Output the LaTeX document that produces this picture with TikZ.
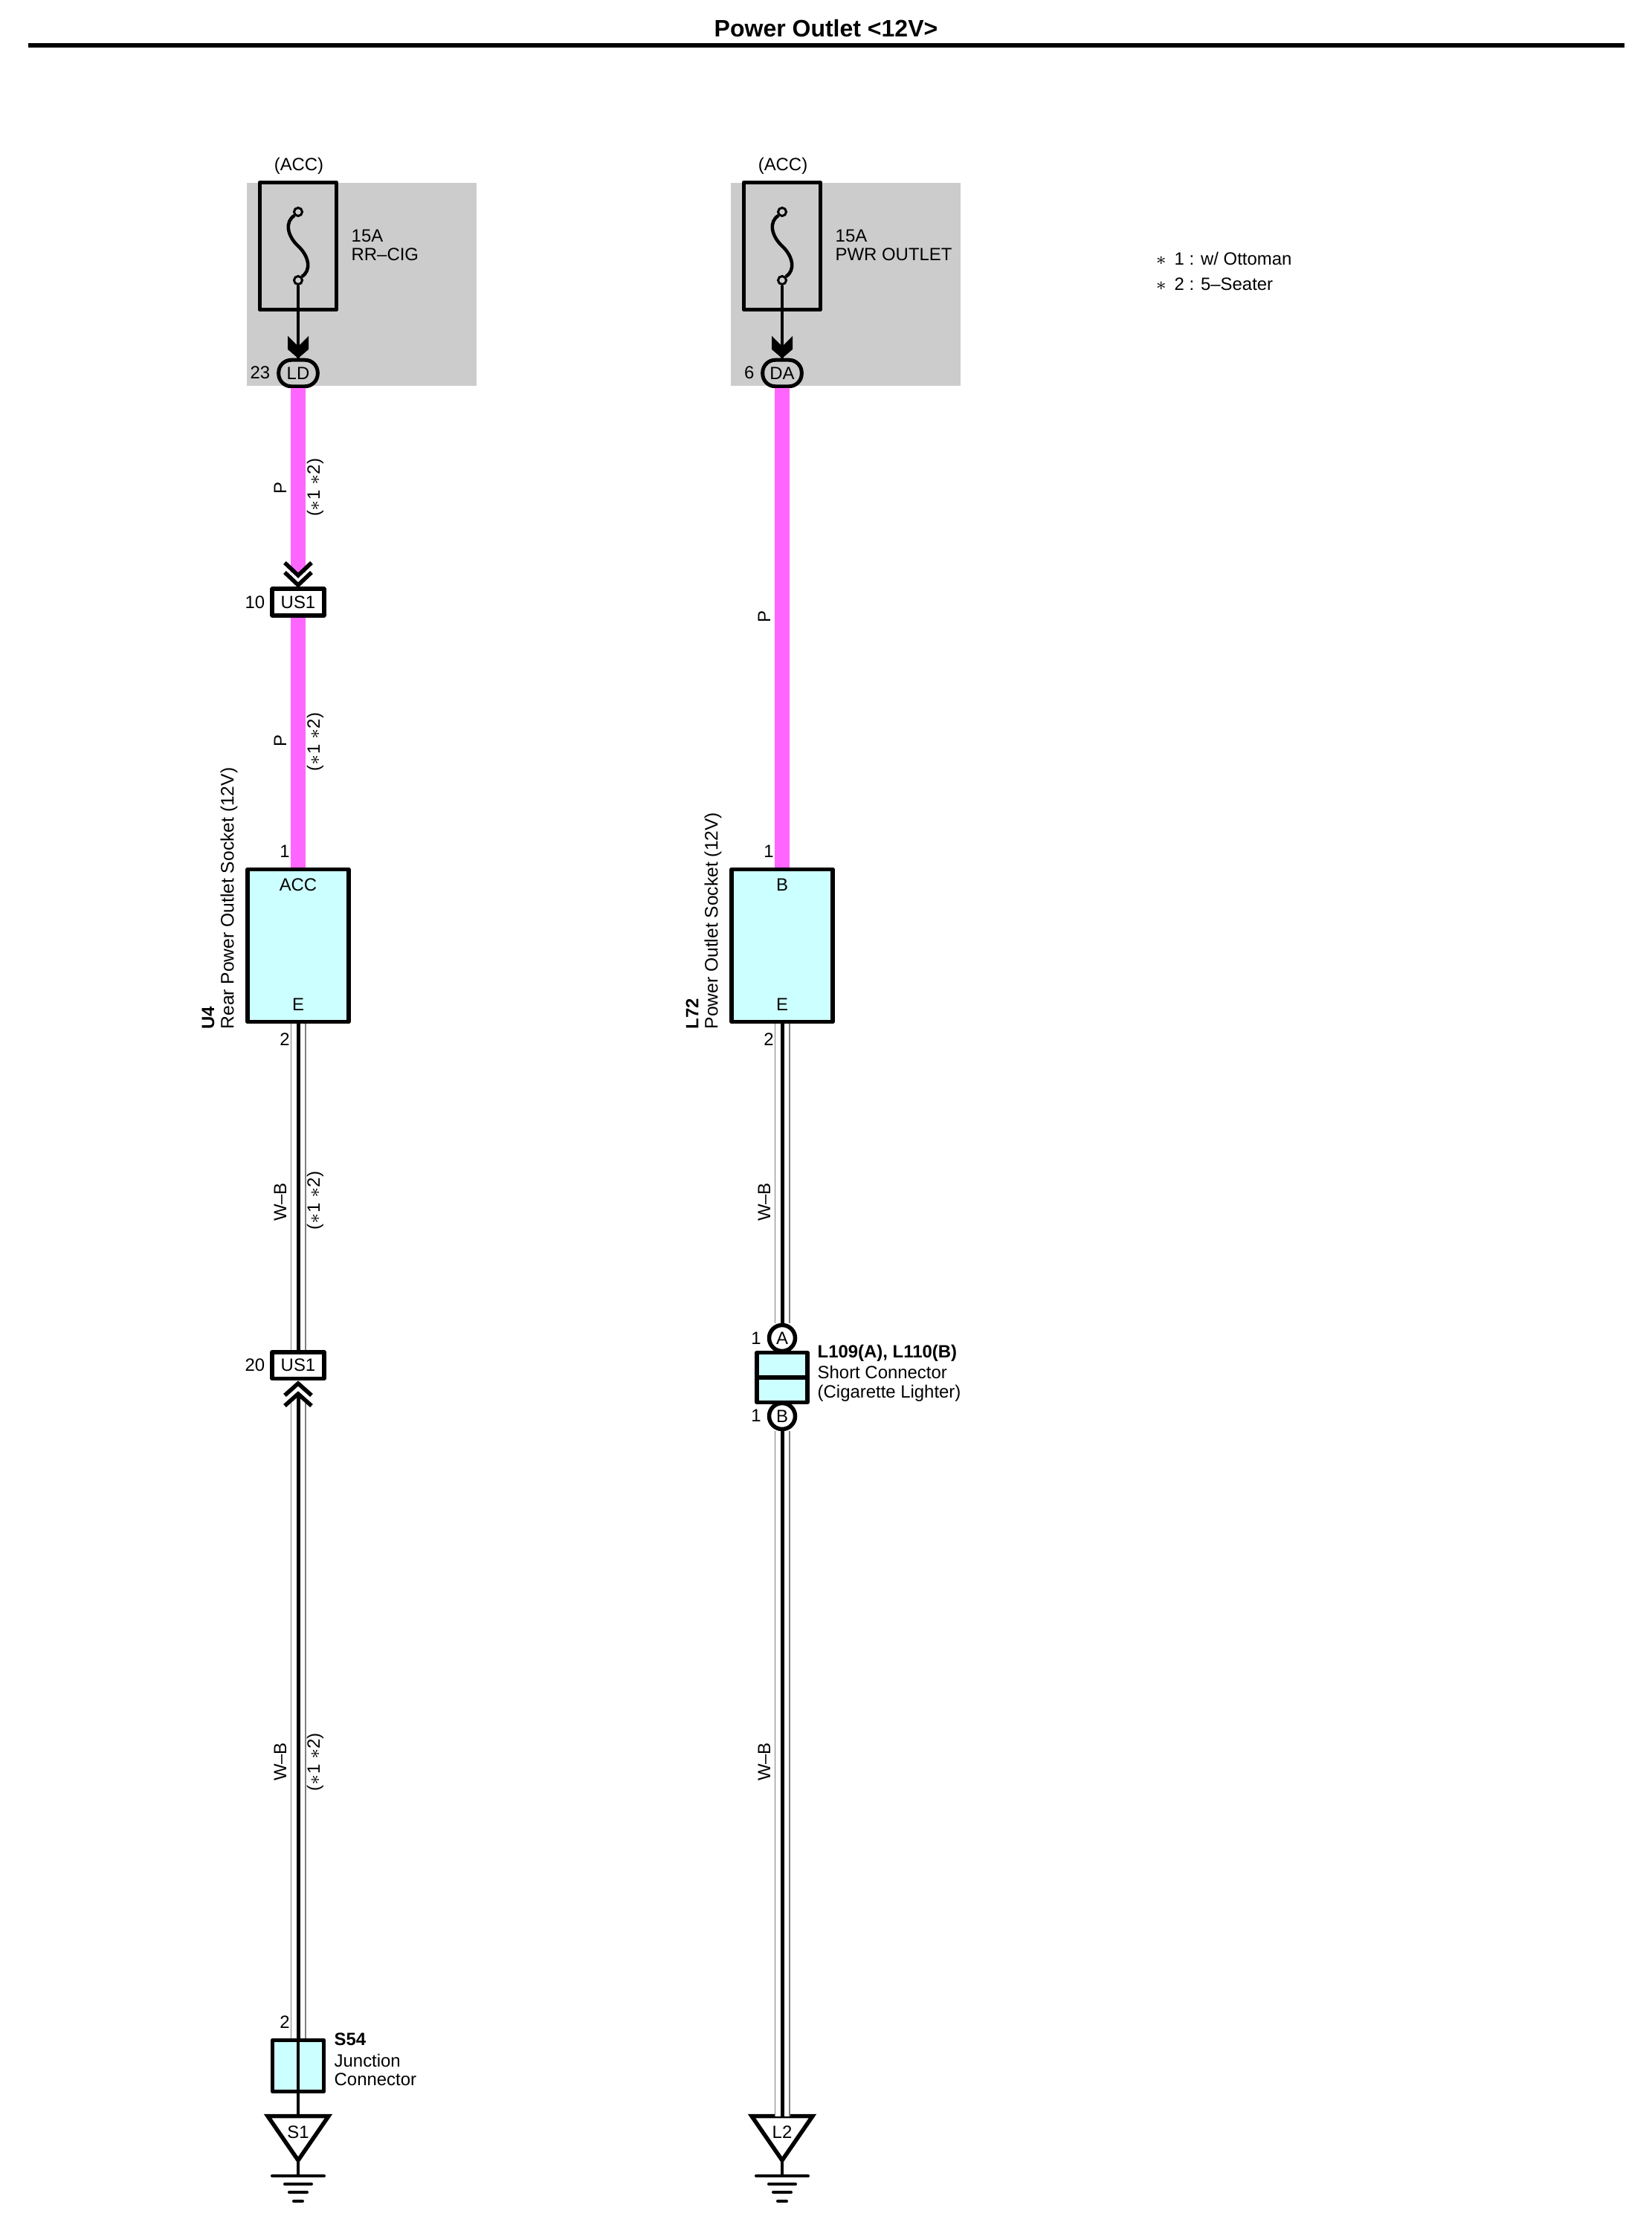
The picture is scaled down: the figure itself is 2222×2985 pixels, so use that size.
\documentclass[tikz,border=0pt]{standalone}
\usepackage{fontspec}
\setmainfont{Liberation Sans}
\newcommand{\noteast}{$\ast$}
\newcommand{\wirefont}{\fontsize{6.8}{7.2}\selectfont}
\definecolor{fusegray}{HTML}{CCCCCC}
\definecolor{wirepink}{HTML}{FF66FF}
\definecolor{boxcyan}{HTML}{CCFFFF}
\definecolor{rimgray}{HTML}{808080}
\tikzset{
  lab/.style={font=\wirefont,inner sep=0pt,align=left},
  wlab/.style={lab,rotate=90},
  boxln/.style={draw=black,line width=.055cm,line join=round,inner sep=0pt},
  usbox/.style={boxln,fill=white,minimum width=.695cm,minimum height=.355cm,font=\wirefont},
  pinball/.style={boxln,fill=white,circle,minimum size=.35cm,font=\wirefont},
  pinkwire/.style={draw=wirepink,line width=.2cm},
  wirerim/.style={draw=rimgray,line width=.015cm,double=white,double distance=.18cm},
  wirecore/.style={draw=black,line width=.05cm},
  feed/.style={draw=black,line width=.035cm},
  chev/.style={draw=black,line width=.055cm},
  gndln/.style={draw=black,line width=.04cm,line cap=round}
}
\newcommand{\wbwire}[2]{\draw[wirerim] (#1) -- (#2); \draw[wirecore] (#1) -- (#2);}
\begin{document}
\begin{tikzpicture}[x=.01cm,y=-.01cm]
\useasboundingbox (0,0) rectangle (2222,2985);

\node[inner sep=0pt,font=\fontsize{9.1}{10}\selectfont\bfseries] (title) at (1111,38) {Power Outlet <12V>};
\draw[line width=.055cm] (38,61) -- (2185,61);

\node[lab,anchor=west,font=\fontsize{6.8}{9.6}\selectfont] (notes) at (1554,365)
  {\noteast\hspace{3pt}1 : w/ Ottoman\\\noteast\hspace{3pt}2 : 5–Seater};

% the parts both columns have
\foreach \n/\cx/\fname/\pnum/\pname/\ptop/\sid/\sname/\gname in {
  A/401/RR–CIG/23/LD/ACC/U4/{Rear Power Outlet Socket (12V)}/S1,
  B/1052/PWR OUTLET/6/DA/B/L72/{Power Outlet Socket (12V)}/L2} {
\begin{scope}[shift={(\cx,0)}]
  \node[fill=fusegray,inner sep=0pt,minimum width=3.09cm,minimum height=2.73cm] (panel\n) at (85.5,382.5) {};
  \node[boxln,minimum width=1.03cm,minimum height=1.71cm] (fuse\n) at (0,331) {};
  \node[lab] (acc\n) at (1,223) {(ACC)};
  \node[lab,anchor=west] (amp\n) at (71,330) {15A\\\fname};

  \node[draw=black,line width=.03cm,fill=fusegray,circle,minimum size=.11cm,inner sep=0pt] (fuseTop\n) at (0,285) {};
  \node[draw=black,line width=.03cm,fill=fusegray,circle,minimum size=.11cm,inner sep=0pt] (fuseBot\n) at (0,377) {};
  \draw[line width=.045cm] (fuseTop\n.south west) .. controls (-18,298) and (-15,317) .. (0,331)
    .. controls (15,345) and (18,364) .. (fuseBot\n.north east);

  \node[boxln,line width=.05cm,rounded corners=.17cm,minimum width=.525cm,minimum height=.355cm,font=\wirefont] (pin\n) at (0,502) {\pname};
  \node[lab,anchor=east] (pinNum\n) at (-37,501) {\pnum};
  \draw[feed] (fuseBot\n) -- (pin\n.north);
  \fill (-14,452) -- (0,466) -- (14,452) -- (14,470) -- (0,482) -- (-14,470) -- cycle;

  \node[boxln,fill=boxcyan,minimum width=1.36cm,minimum height=2.05cm] (sock\n) at (0,1272) {};
  \node[lab] (sockTop\n) at (0,1190) {\ptop};
  \node[lab] (sockE\n) at (0,1351) {E};
  \node[lab] (sockOne\n) at (-18,1145) {1};
  \node[lab] (sockTwo\n) at (-18,1398) {2};
  \node[wlab,anchor=west,font=\fontsize{7}{8}\selectfont] (sockName\n) at (-93,1385) {\sname};
  \node[wlab,anchor=west,font=\wirefont\bfseries] (sockId\n) at (-121,1385) {\sid};

  % ground
  \coordinate (tri\n) at (0,2846.5);
  \coordinate (triEnd\n) at (0,2906);
  \coordinate (gnd\n) at (0,2927);
  \draw[boxln,line join=miter] (-41,2846.5) -- (41,2846.5) -- (triEnd\n) -- cycle;
  \node[lab] (triName\n) at (0,2868) {\gname};
  \draw[feed] (triEnd\n) -- (gnd\n);
  \foreach \gy/\gw in {2927/35,2938/18,2949/12,2961/6} {
    \draw[gndln] (-\gw,\gy) -- (\gw,\gy);
  }
\end{scope}
}

% left column
\coordinate (pinkEnd) at (401,770);
\coordinate (wireTop) at (401,1882);
\node[usbox] (usTop) at (401,810) {US1};
\node[usbox] (usBot) at (401,1836.5) {US1};
\node[boxln,fill=boxcyan,minimum width=.69cm,minimum height=.69cm] (junc) at (401,2779) {};
\draw[pinkwire] (pinA.south) -- (pinkEnd);
\draw[pinkwire] (usTop.south) -- (sockA.north);
\wbwire{sockA.south}{usBot.north}
\wbwire{wireTop}{junc.north}
\draw[wirecore] (401,1875) -- (wireTop);
\draw[feed] (junc.north) -- (triA);

\draw[chev] (383,757) -- (401,774) -- (419,757);
\draw[chev] (383,770) -- (401,787) -- (419,770);
\draw[chev] (383,1877) -- (401,1861) -- (419,1877);
\draw[chev] (383,1891) -- (401,1875) -- (419,1891);

\node[lab,anchor=east] (usTopNum) at (357,810) {10};
\node[lab,anchor=east] (usBotNum) at (357,1836) {20};
\node[lab] (juncNum) at (383,2720) {2};
\node[lab,anchor=west] (juncName) at (449,2770) {\textbf{S54}\\[1pt]Junction\\Connector};

\node[wlab] (wireP1) at (377,657) {P};
\node[wlab] (wireP2) at (377,997) {P};
\node[wlab] (wireWB1) at (377,1617) {W–B};
\node[wlab] (wireWB2) at (377,2370) {W–B};
\foreach \vy in {656,998,1615,2370} {
  \node[wlab] (opt\vy) at (424,\vy) {(\noteast 1 \noteast 2)};
}

% right column
\node[pinball] (ballA) at (1052,1800) {A};
\node[pinball] (ballB) at (1052,1905) {B};
\node[boxln,fill=boxcyan,minimum width=.68cm,minimum height=.67cm] (short) at (1052,1853) {};
\draw[boxln] (short.west) -- (short.east);
\draw[pinkwire] (pinB.south) -- (sockB.north);
\wbwire{sockB.south}{ballA.north}
\wbwire{ballB.south}{triB}
\node[lab] (ballANum) at (1017,1800) {1};
\node[lab] (ballBNum) at (1017,1904) {1};
\node[lab,anchor=west] (shortName) at (1099,1847) {\textbf{L109(A), L110(B)}\\[1pt]Short Connector\\(Cigarette Lighter)};

\node[wlab] (wireP3) at (1028,830) {P};
\node[wlab] (wireWB3) at (1028,1617) {W–B};
\node[wlab] (wireWB4) at (1028,2370) {W–B};

\end{tikzpicture}
\end{document}
